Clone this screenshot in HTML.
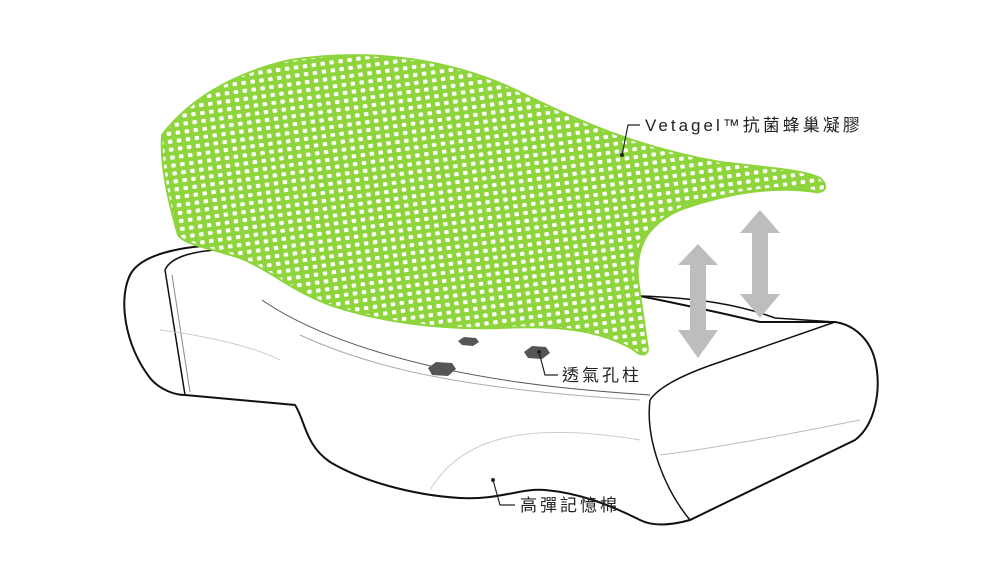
<!DOCTYPE html>
<html><head><meta charset="utf-8"><style>
html,body{margin:0;padding:0;background:#fff;width:1000px;height:577px;overflow:hidden}
svg{display:block}
text{font-family:"Liberation Sans","Noto Sans CJK TC",sans-serif;fill:#222}
</style></head><body>
<svg width="1000" height="577" viewBox="0 0 1000 577" xmlns="http://www.w3.org/2000/svg">
<defs>
<pattern id="mesh" width="9" height="8" patternUnits="userSpaceOnUse" patternTransform="rotate(-8)">
<rect width="9" height="8" fill="#8ed43c"/>
<rect x="2.5" y="2" width="4.5" height="4" rx="1" fill="#fff"/>
</pattern>
</defs>
<!-- pillow -->
<path d="M230,245 C180,245 140,255 130,275 C118,300 125,345 150,378 C160,390 175,395 185,395 L295,405 C305,420 305,445 330,462 C360,480 410,495 460,498 C500,500 520,488 545,490 C580,493 610,505 640,520 C650,525 665,527 690,520 L855,440 C875,425 882,390 875,360 C870,340 855,325 835,322 L760,322 C700,308 660,300 640,296" fill="#fff" stroke="#111" stroke-width="2"/>
<path d="M185,395 L165,270 C170,258 190,252 215,250" fill="none" stroke="#111" stroke-width="1.5"/>
<path d="M190,392 L172,275" fill="none" stroke="#888" stroke-width="1"/>
<path d="M650,400 C660,385 690,372 720,362 L835,322" fill="none" stroke="#111" stroke-width="1.5"/>
<path d="M650,400 C645,440 665,490 690,520" fill="none" stroke="#111" stroke-width="1.5"/>
<path d="M660,455 C700,450 760,440 860,420" fill="none" stroke="#bbb" stroke-width="1"/>
<path d="M430,490 C460,440 520,420 640,440" fill="none" stroke="#ccc" stroke-width="1"/>
<path d="M160,330 C200,335 250,345 280,360" fill="none" stroke="#ccc" stroke-width="1"/>
<path d="M262,300 C320,340 420,370 540,385 C580,390 620,393 650,395" fill="none" stroke="#555" stroke-width="1"/>
<path d="M300,335 C380,372 480,390 640,400" fill="none" stroke="#aaa" stroke-width="1"/>
<path d="M640,296 C700,298 740,305 775,318 L835,322" fill="none" stroke="#111" stroke-width="1.5"/>
<!-- vents -->
<polygon points="428,368 436,362 452,363 456,369 448,376 432,375" fill="#555"/>
<polygon points="524,352 532,346 546,347 550,353 542,359 528,358" fill="#555"/>
<polygon points="458,341 464,337 476,338 479,342 473,346 462,345" fill="#555"/>
<!-- arrows -->
<g fill="#bdbdbd">
<polygon points="698,244 718,265 706,265 706,330 718,330 698,358 678,330 690,330 690,265 678,265"/>
<polygon points="760,210 780,233 768,233 768,294 780,294 760,318 740,294 752,294 752,233 740,233"/>
</g>
<!-- mesh -->
<path d="M162,135 C185,105 225,75 290,60 C370,48 450,58 520,92 C580,122 640,148 720,162 C770,168 805,170 820,178 C828,185 826,192 818,192 L800,188 C780,185 720,195 680,210 C650,222 635,245 638,280 L648,350 C646,356 640,356 634,350 C600,330 560,325 500,328 C440,330 380,322 330,305 C290,290 270,270 240,258 C210,248 185,245 178,235 C168,200 160,165 162,135 Z" fill="url(#mesh)" stroke="#8ed43c" stroke-width="2"/>
<path d="M636,282 C632,245 650,220 690,205 C730,192 780,185 818,192" fill="none" stroke="#8ed43c" stroke-width="3"/>
<!-- labels -->
<polyline points="622,155 628,125 640,125" fill="none" stroke="#222" stroke-width="1.2"/>
<circle cx="622" cy="155" r="2" fill="#222"/>
<text x="645" y="131" font-size="17" letter-spacing="3">Vetagel™抗菌蜂巢凝膠</text>
<polyline points="539,352 545,375 558,375" fill="none" stroke="#222" stroke-width="1.2"/>
<circle cx="539" cy="352" r="2" fill="#222"/>
<text x="562" y="381" font-size="17" letter-spacing="3">透氣孔柱</text>
<polyline points="493,480 500,505 515,505" fill="none" stroke="#222" stroke-width="1.2"/>
<circle cx="493" cy="480" r="2" fill="#222"/>
<text x="520" y="511" font-size="17" letter-spacing="3">高彈記憶棉</text>
</svg>
</body></html>
